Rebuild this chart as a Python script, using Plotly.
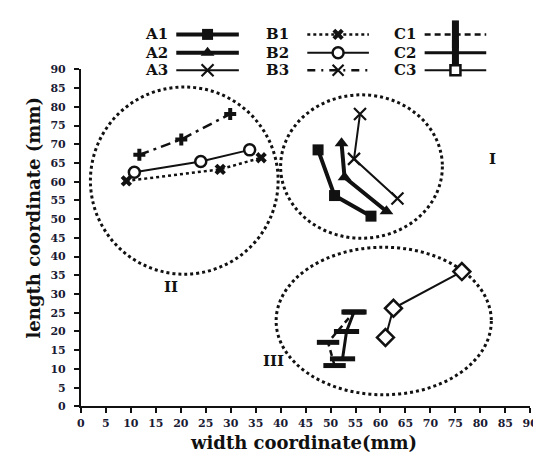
import plotly.graph_objects as go

# ---------------- data ----------------
A1_x = [47.5, 50.8, 58.1]; A1_y = [68.5, 56.3, 50.8]
A2_x = [52.2, 52.8, 61.2]; A2_y = [70.3, 61.2, 52.1]
A3_x = [55.9, 54.7, 63.4]; A3_y = [78.1, 66.1, 55.5]
B1_x = [9.1, 27.9, 36.1];  B1_y = [60.2, 63.3, 66.4]
B2_x = [10.7, 24.0, 33.8]; B2_y = [62.5, 65.4, 68.5]
B3_x = [11.7, 20.1, 29.9]; B3_y = [67.2, 71.3, 78.1]
C1_x = [50.8, 49.5, 54.7]; C1_y = [10.9, 17.1, 25.2]
C2_x = [52.4, 53.2, 54.7]; C2_y = [12.7, 20.0, 25.2]
C3_x = [61.0, 62.6, 76.3]; C3_y = [18.4, 26.2, 36.0]

series_names = ["A1", "A2", "A3", "B1", "B2", "B3", "C1", "C2", "C3"]
tick_vals = list(range(0, 95, 5))

# group ellipses (x0, x1, y0, y1) and their labels
groups = {"I": (40.0, 72.4, 44.9, 83.2), "II": (1.9, 39.5, 35.3, 85.3), "III": (39.1, 82.2, 3.1, 42.5)}
group_label_pos = {"I": (82.5, 66.0), "II": (18.1, 31.9), "III": (38.5, 12.0)}

# ---------------- styles ----------------
W, H = 541, 452
PL, PR, PT, PB = 70.5, 530.0, 57.0, 404.0
SERIF = "DejaVu Serif"
INK = "#111111"

styles = {
    "A1": dict(line=dict(color=INK, width=4, dash="solid"),
               marker=dict(symbol="square", size=11, color=INK)),
    "A2": dict(line=dict(color=INK, width=4, dash="solid"),
               marker=dict(symbol="triangle-up", size=12, color=INK)),
    "A3": dict(line=dict(color=INK, width=2, dash="solid"),
               marker=dict(symbol="x-thin", size=12, color=INK, line=dict(color=INK, width=2.2))),
    "B1": dict(line=dict(color=INK, width=2.5, dash="3px,3px"),
               marker=dict(symbol="x", size=10, color=INK, line=dict(width=0))),
    "B2": dict(line=dict(color=INK, width=2, dash="solid"),
               marker=dict(symbol="circle", size=11, color="white", line=dict(color=INK, width=2.5))),
    "B3": dict(line=dict(color=INK, width=2.5, dash="10px,5px,3px,5px"),
               marker=dict(symbol="cross", size=10, color=INK, line=dict(width=0))),
    "C1": dict(line=dict(color=INK, width=2.5, dash="6px,4px"),
               marker=dict(symbol="line-ew", size=16, color=INK, line=dict(color=INK, width=5))),
    "C2": dict(line=dict(color=INK, width=3, dash="solid"),
               marker=dict(symbol="line-ew", size=18, color=INK, line=dict(color=INK, width=5))),
    "C3": dict(line=dict(color=INK, width=2, dash="solid"),
               marker=dict(symbol="diamond", size=13, color="white", line=dict(color=INK, width=2.5))),
}
legend_marker = {
    "B3": dict(symbol="x-thin", size=11, color=INK, line=dict(color=INK, width=2.2)),
    "C1": dict(symbol="line-ns", size=20, color=INK, line=dict(color=INK, width=7)),
    "C2": dict(symbol="line-ns", size=18, color=INK, line=dict(color=INK, width=7)),
    "C3": dict(symbol="square", size=10, color="white", line=dict(color=INK, width=2.5)),
}
legend_dash = {"B3": "8px,6px,2px,6px"}

data = {
    "A1": (A1_x, A1_y), "A2": (A2_x, A2_y), "A3": (A3_x, A3_y),
    "B1": (B1_x, B1_y), "B2": (B2_x, B2_y), "B3": (B3_x, B3_y),
    "C1": (C1_x, C1_y), "C2": (C2_x, C2_y), "C3": (C3_x, C3_y),
}

fig = go.Figure()

for name in series_names:
    xs, ys = data[name]
    st = styles[name]
    fig.add_trace(go.Scatter(x=xs, y=ys, mode="lines+markers", name=name,
                             line=st["line"], marker=st["marker"],
                             cliponaxis=False, showlegend=False))

# group ellipses
shapes = []
for g, (x0, x1, y0, y1) in groups.items():
    shapes.append(dict(type="circle", xref="x", yref="y", x0=x0, x1=x1, y0=y0, y1=y1,
                       line=dict(color=INK, width=3, dash="3px,3px"), layer="below"))

annotations = []
for g, (gx, gy) in group_label_pos.items():
    annotations.append(dict(x=gx, y=gy, xref="x", yref="y", text=g, showarrow=False,
                            xanchor="center", yanchor="middle",
                            font=dict(family=SERIF, size=15, color=INK, weight="bold")))

# axis titles
annotations.append(dict(x=298 / W, y=1 - 441 / H, xref="paper", yref="paper",
                        text="width coordinate(mm)", showarrow=False,
                        xanchor="center", yanchor="middle",
                        font=dict(family=SERIF, size=18, color=INK, weight="bold")))
annotations.append(dict(x=22 / W, y=1 - 210 / H, xref="paper", yref="paper",
                        text="length coordinate (mm)", showarrow=False, textangle=-90,
                        xanchor="center", yanchor="middle",
                        font=dict(family=SERIF, size=18, color=INK, weight="bold")))

# ---------------- custom legend (text left of sample) ----------------
leg_rows = {"A1": 0, "A2": 1, "A3": 2, "B1": 0, "B2": 1, "B3": 2, "C1": 0, "C2": 1, "C3": 2}
leg_cols = {"A": (161, 168, 232), "B": (284, 302, 365), "C": (414, 422, 485)}
row_y = [21, 40, 58]
for name in series_names:
    tx, lx0, lx1 = leg_cols[name[0]]
    yy = row_y[leg_rows[name]]
    st = styles[name]
    lw = dict(st["line"])
    if name in legend_dash:
        lw["dash"] = legend_dash[name]
    fig.add_trace(go.Scatter(x=[lx0, lx1], y=[yy, yy], mode="lines", line=lw,
                             xaxis="x2", yaxis="y2", showlegend=False, hoverinfo="skip"))
    mk = legend_marker.get(name, st["marker"])
    fig.add_trace(go.Scatter(x=[(lx0 + lx1) / 2], y=[yy], mode="markers", marker=mk,
                             xaxis="x2", yaxis="y2", showlegend=False, hoverinfo="skip"))
    annotations.append(dict(x=tx, y=yy, xref="x2", yref="y2", text=name, showarrow=False,
                            xanchor="right", yanchor="middle", borderpad=0,
                            font=dict(family=SERIF, size=15, color=INK, weight="bold")))

axis_common = dict(showgrid=False, zeroline=False, showline=True, linecolor=INK, linewidth=2,
                   ticks="outside", ticklen=5, tickwidth=2, tickcolor=INK,
                   tickfont=dict(family=SERIF, size=11, color="#1a1a33", weight="bold"),
                   tickmode="array", tickvals=tick_vals, ticktext=[str(v) for v in tick_vals])

fig.update_layout(
    width=W, height=H, margin=dict(l=0, r=0, t=0, b=0),
    paper_bgcolor="white", plot_bgcolor="rgba(0,0,0,0)",
    xaxis=dict(domain=[PL / W, PR / W], range=[0, 90], anchor="y", **axis_common),
    yaxis=dict(domain=[1 - PB / H, 1 - PT / H], range=[0, 90], anchor="x",
               ticklabelstandoff=6, **axis_common),
    xaxis2=dict(domain=[0, 1], range=[0, W], anchor="y2", visible=False, fixedrange=True),
    yaxis2=dict(domain=[0, 1], range=[H, 0], anchor="x2", visible=False, fixedrange=True),
    shapes=shapes, annotations=annotations, showlegend=False,
)

fig.write_html("out.html")
